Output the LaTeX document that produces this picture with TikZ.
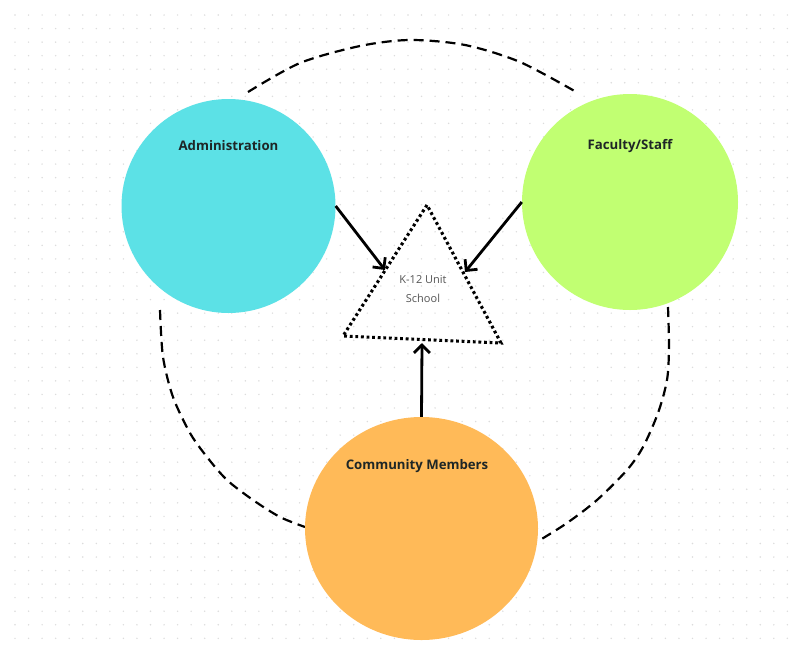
\documentclass[tikz,border=0pt]{standalone}
\usepackage{fontspec}
\setmainfont{Open Sans}
\usetikzlibrary{arrows.meta,shapes.geometric}
\definecolor{cyanc}{HTML}{5CE1E6}
\definecolor{greenc}{HTML}{C1FF72}
\definecolor{orangec}{HTML}{FFBA58}
\definecolor{dotc}{HTML}{DCDCDC}
\definecolor{lblc}{HTML}{1E2626}
\definecolor{grayc}{HTML}{555555}
\begin{document}
\begin{tikzpicture}[x=1pt,y=-1pt,
  lbl/.style={font=\fontsize{13.2}{15}\selectfont\bfseries, text=lblc, inner sep=0pt},
  blob/.style={circle, inner sep=0pt, draw=none},
  arr/.style={line width=2.8pt, -{Straight Barb[length=8pt,width=16pt]}},
  ring/.style={line width=2.2pt, dash pattern=on 10pt off 6pt},
  dots/.style={line width=3.1pt, dash pattern=on 2.8pt off 2.8pt}]
\useasboundingbox (0,0) rectangle (803,654);
\fill[white] (0,0) rectangle (803,654);
\foreach \i in {0,...,57}{
  \foreach \j in {0,...,46}{
    \fill[dotc] (15+13.55*\i, 15+13.55*\j) circle (0.8pt);
  }
}
% dashed ring segments
\draw[ring] plot[smooth] coordinates {(248,92) (300,63) (360,46) (410,40) (465,45) (520,62) (578,93)};
\draw[ring] plot[smooth] coordinates {(160,310) (163,357) (173,397) (190,433) (207,457) (227,480) (253,500) (280,517) (305,527)};
\draw[ring] plot[smooth] coordinates {(668,307) (669,347) (667,380) (658,413) (643,447) (627,470) (597,500) (567,523) (540,540)};
% circles
\node[blob, fill=cyanc, minimum size=214pt] (adm) at (228.5,206) {};
\node[blob, fill=greenc, minimum size=216pt] (fac) at (630,202) {};
\node[ellipse, inner sep=0pt, fill=orangec, minimum width=233pt, minimum height=223pt] (com) at (421.5,528.5) {};
\node[lbl] (admL) at (228.5,146) {Administration};
\node[lbl] (facL) at (630,146) {Faculty/Staff};
\node[lbl] (comL) at (417,466) {Community Members};
% triangle
\coordinate (ta) at (427,205);
\coordinate (tb) at (343,336);
\coordinate (tc) at (501,343);
\draw[dots] (ta) -- (tb) -- (tc) -- cycle;
\node[align=center, text=grayc, font=\fontsize{11}{19.5}\selectfont, inner sep=0pt] (school) at (423,289) {K-12 Unit\\School};
% arrows
\coordinate (t1) at (385,270);
\coordinate (t2) at (465,272);
\coordinate (t3) at (422,343);
\draw[arr] (adm.east) -- (t1);
\draw[arr] (fac.west) -- (t2);
\draw[arr] (com.north) -- (t3);
\end{tikzpicture}
\end{document}
